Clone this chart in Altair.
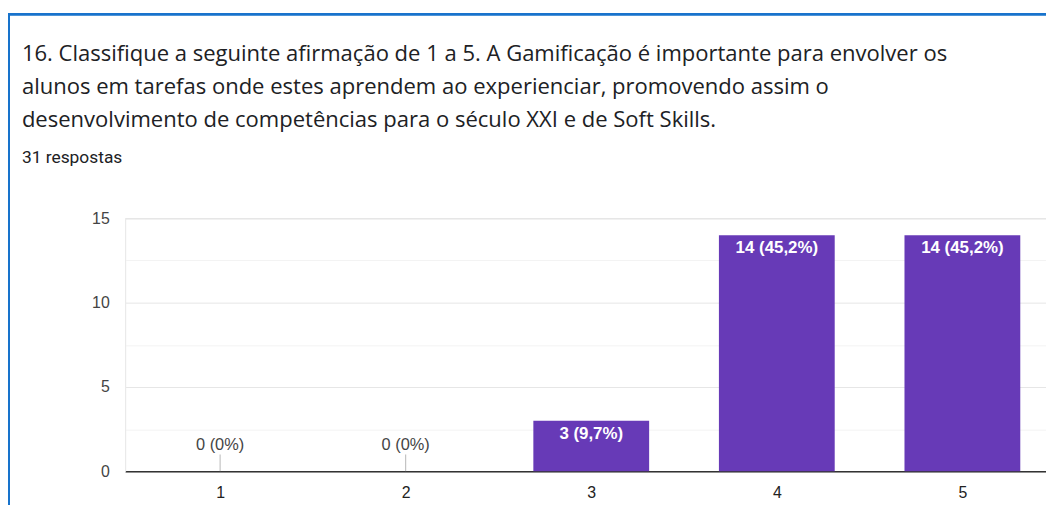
import altair as alt
import pandas as pd

categories = [1, 2, 3, 4, 5]
counts = [0, 0, 3, 14, 14]
labels = ["0 (0%)", "0 (0%)", "3 (9,7%)", "14 (45,2%)", "14 (45,2%)"]
title_lines = [
    "16. Classifique a seguinte afirmação de 1 a 5. A Gamificação é importante para envolver os",
    "alunos em tarefas onde estes aprendem ao experienciar, promovendo assim o",
    "desenvolvimento de competências para o século XXI e de Soft Skills.",
]
subtitle = "31 respostas"
grid_values = [0, 2.5, 5, 7.5, 10, 12.5, 15]

df = pd.DataFrame({"cat": categories, "count": counts, "label": labels})

AX_FONT = "Liberation Sans"
PURPLE = "#673ab7"
BLUE = "#1873cc"

xscale = alt.Scale(domain=[0.488, 5.4506], nice=False, zero=False)
yscale = alt.Scale(domain=[0, 15], nice=False)

x_axis = alt.Axis(values=categories, format="d", title=None, grid=False, ticks=False,
                  domain=True, domainColor="#333333", domainWidth=1.5,
                  labelFont=AX_FONT, labelFontSize=16, labelColor="#222222", labelPadding=13)
y_axis = alt.Axis(values=grid_values, title=None, ticks=False,
                  labelExpr="datum.value % 5 === 0 ? datum.label : ''",
                  gridColor={"condition": {"test": "datum.value % 5 === 0", "value": "#e6e6e6"},
                             "value": "#f3f3f3"},
                  domain=True, domainColor="#ebebeb",
                  labelFont=AX_FONT, labelFontSize=16, labelColor="#444444", labelPadding=16)

base = alt.Chart(df)

bars = base.transform_calculate(
    x0="datum.cat - 0.312", x1="datum.cat + 0.312"
).mark_bar(color=PURPLE).encode(
    x=alt.X("x0:Q", scale=xscale, axis=x_axis),
    x2="x1:Q",
    y=alt.Y("count:Q", scale=yscale, axis=y_axis),
    y2=alt.datum(0),
)

in_labels = base.transform_filter("datum.count > 0").mark_text(
    color="white", baseline="top", dy=5, font=AX_FONT, fontSize=17, fontWeight="bold"
).encode(x=alt.X("cat:Q", scale=xscale), y=alt.Y("count:Q", scale=yscale), text="label:N")

zero_labels = base.transform_filter("datum.count == 0").mark_text(
    color="#444444", baseline="bottom", dy=-19, font=AX_FONT, fontSize=16.5
).encode(x=alt.X("cat:Q", scale=xscale), y=alt.Y("count:Q", scale=yscale), text="label:N")

stems = base.transform_filter("datum.count == 0").mark_tick(
    orient="vertical", size=17, thickness=1, yOffset=-8.5, color="#999999"
).encode(x=alt.X("cat:Q", scale=xscale), y=alt.Y("count:Q", scale=yscale))

border_left = base.mark_rule(color=BLUE, strokeWidth=2).encode(
    x=alt.value(-117), y=alt.value(-206), y2=alt.value(300))
border_top = base.mark_rule(color=BLUE, strokeWidth=2).encode(
    x=alt.value(-118), x2=alt.value(1000), y=alt.value(-205.5))

chart = alt.layer(bars, in_labels, zero_labels, stems, border_left, border_top).properties(
    width=928,
    height=255,
    padding={"left": 118, "top": 210, "right": 0, "bottom": 32},
    autosize="none",
    title=alt.TitleParams(
        text=title_lines, subtitle=subtitle, anchor="start", frame="group", dx=-104,
        offset=-155, font="Open Sans", fontSize=22.2, fontWeight="normal", color="#202124",
        lineHeight=33.5, subtitleFont="Roboto", subtitleFontSize=17.5,
        subtitleColor="#202124", subtitlePadding=18,
    ),
).configure_view(stroke=None).configure(background="white")

chart.save("out.html", embed_options={"renderer": "svg", "actions": False})
